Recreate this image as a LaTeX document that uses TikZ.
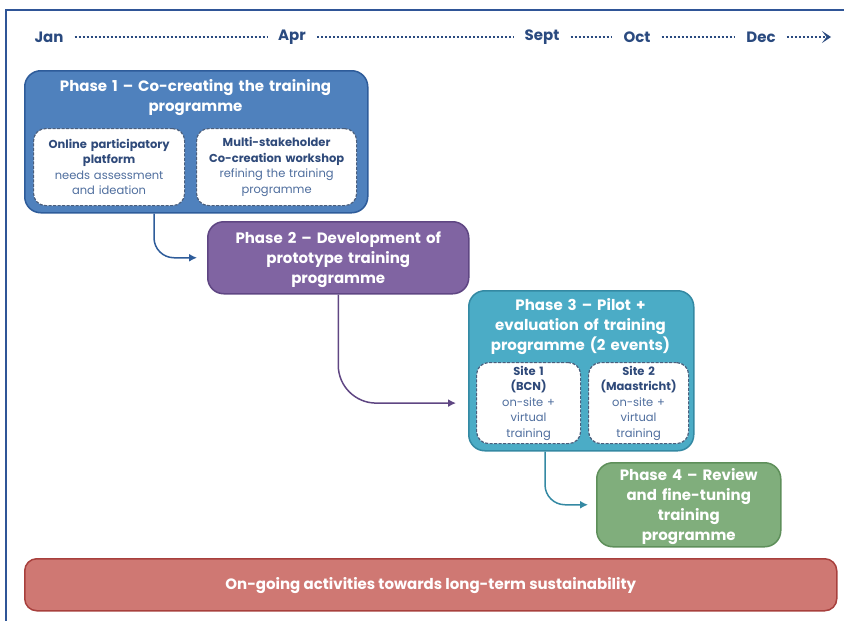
\documentclass[tikz,border=0pt]{standalone}
\usepackage{fontspec}
\setmainfont{Poppins}
\usetikzlibrary{arrows.meta}

\definecolor{frameblue}{HTML}{2F5597}
\definecolor{monthtxt}{HTML}{2A4A7F}
\definecolor{oneFill}{HTML}{4F81BD}
\definecolor{oneLine}{HTML}{2E5C9A}
\definecolor{twoFill}{HTML}{8064A2}
\definecolor{twoLine}{HTML}{5F4683}
\definecolor{threeFill}{HTML}{4BACC6}
\definecolor{threeLine}{HTML}{3489A3}
\definecolor{fourFill}{HTML}{80AE7C}
\definecolor{fourLine}{HTML}{5E8F5A}
\definecolor{goingFill}{HTML}{CF7873}
\definecolor{goingLine}{HTML}{A8403D}
\definecolor{subBold}{HTML}{2F4A7A}
\definecolor{subText}{HTML}{4F6E9E}
\definecolor{subLine}{HTML}{4A5E7C}

\newcommand{\titlefont}{\fontsize{15}{20}\selectfont\bfseries}
\newcommand{\subfont}{\fontsize{11.5}{15.5}\selectfont}

\tikzset{
  phase/.style={draw, line width=1.5pt, rounded corners=16pt, anchor=north west, inner sep=0pt},
  phasetitle/.style={text=white, align=center, font=\titlefont, inner sep=0pt},
  subbox/.style={draw=subLine, fill=white, line width=1.2pt, dash pattern=on 3pt off 1.5pt,
    rounded corners=12pt, anchor=north west, inner sep=0pt, align=center, font=\subfont, text=subText},
  month/.style={text=monthtxt, font=\fontsize{15}{17}\selectfont\bfseries, inner ysep=0pt, inner xsep=11pt},
  timedots/.style={draw=monthtxt, line width=2.6pt, dash pattern=on 2pt off 2pt},
  flow/.style={line width=1.5pt, -{Latex[length=8pt,width=8pt]}}
}

\begin{document}
\begin{tikzpicture}[x=1pt,y=-1pt]
  \useasboundingbox (0,0) rectangle (844,621);
  \draw[frameblue, line width=2pt] (6,621) -- (6,10) -- (844,10);

  % time line
  \node[month] (jan) at (49,37) {Jan};
  \node[month] (apr) at (292,37) {Apr};
  \node[month] (sept) at (542,37) {Sept};
  \node[month] (oct) at (637,37) {Oct};
  \node[month] (dec) at (761,37) {Dec};
  \coordinate (tend) at (831,37);
  \draw[timedots] (jan) -- (apr);
  \draw[timedots] (apr) -- (sept);
  \draw[timedots] (sept) -- (oct);
  \draw[timedots] (oct) -- (dec);
  \draw[timedots, -{Stealth[length=9pt,width=12pt,inset=4.5pt,fill=monthtxt]}] (dec) -- (tend);

  % phase 1
  \node[phase, fill=oneFill, draw=oneLine, minimum width=343pt, minimum height=142pt] (p1) at (24,70) {};
  \node[phasetitle, text width=335pt] (p1t) at (195.5,98) {Phase 1 -- Co-creating the training\\programme};
  \node[subbox, minimum width=151pt, minimum height=77pt, text width=147pt] (p1a) at (33,128)
    {\textbf{\color{subBold}Online participatory}\\\textbf{\color{subBold}platform}\\needs assessment\\and ideation};
  \node[subbox, minimum width=160pt, minimum height=77pt, text width=156pt] (p1b) at (196,128)
    {\textbf{\color{subBold}Multi-stakeholder}\\\textbf{\color{subBold}Co-creation workshop}\\refining the training\\programme};

  % phase 2
  \node[phase, fill=twoFill, draw=twoLine, minimum width=261pt, minimum height=72pt] (p2) at (207,221) {};
  \node[phasetitle, text width=255pt] (p2t) at ([yshift=-2pt]p2) {Phase 2 -- Development of\\prototype training\\programme};

  % phase 3
  \node[phase, fill=threeFill, draw=threeLine, minimum width=225pt, minimum height=160pt] (p3) at (468,290) {};
  \node[phasetitle, text width=220pt] (p3t) at (580.5,327) {Phase 3 -- Pilot +\\evaluation of training\\programme (2 events)};
  \node[subbox, minimum width=104pt, minimum height=81pt, text width=100pt] (p3a) at (476,362)
    {\textbf{\color{subBold}Site 1}\\\textbf{\color{subBold}(BCN)}\\on-site +\\virtual\\training};
  \node[subbox, minimum width=100pt, minimum height=81pt, text width=98pt] (p3b) at (588,362)
    {\textbf{\color{subBold}Site 2}\\\textbf{\color{subBold}(Maastricht)}\\on-site +\\virtual\\training};

  % phase 4
  \node[phase, fill=fourFill, draw=fourLine, minimum width=184pt, minimum height=84pt] (p4) at (596,462) {};
  \node[phasetitle, text width=180pt] (p4t) at ([yshift=-2pt]p4) {Phase 4 -- Review\\and fine-tuning\\training\\programme};

  % on-going
  \node[phase, fill=goingFill, draw=goingLine, minimum width=812pt, minimum height=52pt, rounded corners=12pt] (go) at (24,558) {};
  \node[phasetitle] (got) at ([yshift=-1pt]go) {On-going activities towards long-term sustainability};

  % arrows
  \draw[flow, oneLine, rounded corners=20pt] (p1.south west) ++(130,0) |- ([xshift=-10pt]p2.west);
  \draw[flow, twoLine, rounded corners=38pt] (p2.south) |- ([xshift=-20pt]p3a.west);
  \draw[flow, threeLine, rounded corners=20pt] (p3.south west) ++(77,0) |- ([xshift=-8pt]p4.west);
\end{tikzpicture}
\end{document}
